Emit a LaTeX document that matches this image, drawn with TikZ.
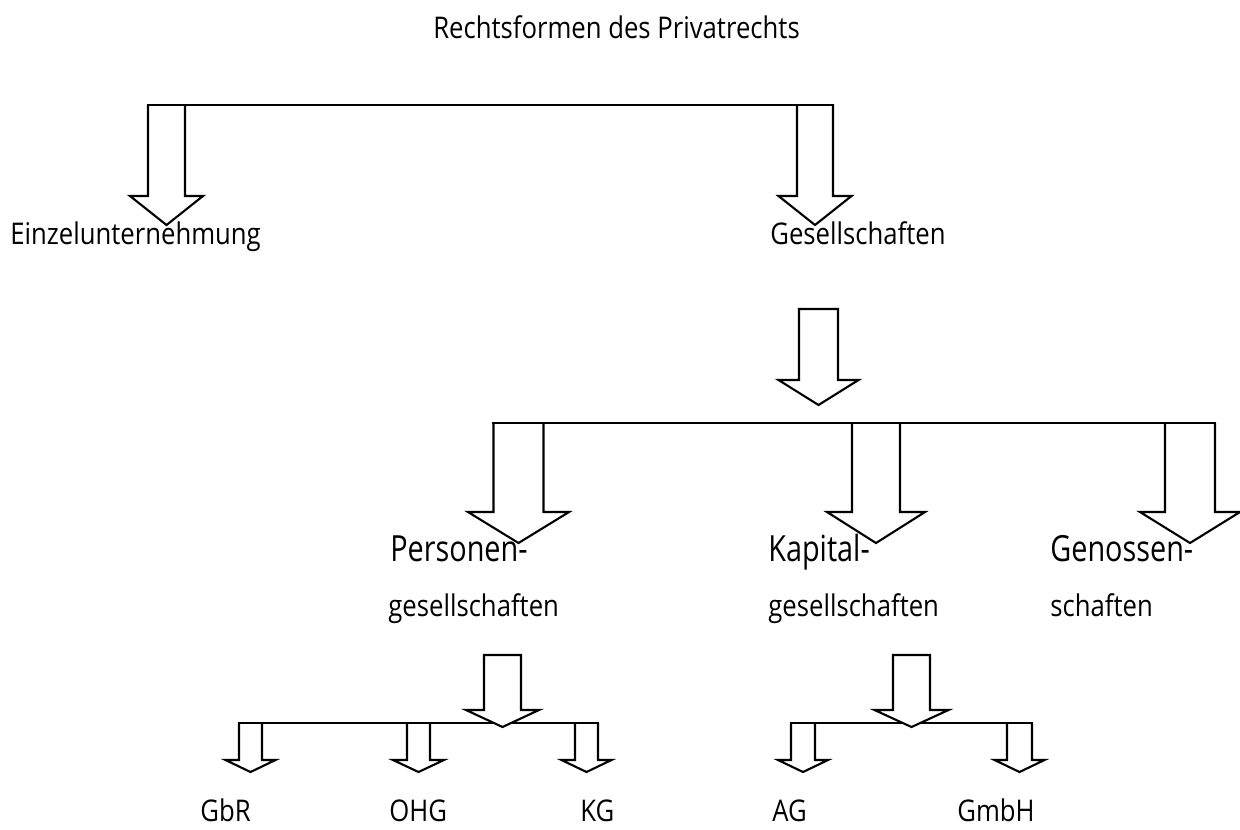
\documentclass[tikz,border=0pt]{standalone}
\usepackage{fontspec}
\setmainfont{Open Sans}[FakeStretch=0.86]
\newfontfamily\bigfont{Open Sans}[FakeStretch=0.8]

% block arrow hanging from a bar: centre, half shaft, half head, top, base, tip
\newcommand{\hangarr}[6]{%
  \draw[outline] (#1-#2,#4) -- (#1-#2,#5) -- (#1-#3,#5) -- (#1,#6)
    -- (#1+#3,#5) -- (#1+#2,#5) -- (#1+#2,#4);}
% free standing block arrow, same arguments
\newcommand{\soloarr}[6]{%
  \draw[outline,fill=white] (#1-#2,#4) -- (#1-#2,#5) -- (#1-#3,#5) -- (#1,#6)
    -- (#1+#3,#5) -- (#1+#2,#5) -- (#1+#2,#4) -- cycle;}

\tikzset{
  outline/.style={line width=1.2pt, line join=miter},
  bar/.style={line width=1.2pt, line cap=rect},
  lbl/.style={anchor=base west, inner sep=0pt, font=\fontsize{17}{20}\selectfont},
  biglbl/.style={anchor=base west, inner sep=0pt, font=\bigfont\fontsize{20.5}{24}\selectfont},
}

\begin{document}
\begin{tikzpicture}[x=0.02cm, y=-0.02cm]
  \useasboundingbox (0,0) rectangle (1240,829);

  \node [lbl, anchor=base] (title) at (616.5,38) {Rechtsformen des Privatrechts};

  % first level
  \hangarr{166.5}{18.5}{36.5}{104.7}{196}{225}
  \hangarr{815}{18}{36.5}{104.7}{196}{225}
  \draw [bar] (148,104.7) -- (833,104.7);

  \node [lbl] (einzel) at (10,244) {Einzelunternehmung};
  \node [lbl] (gesell) at (770,244) {Gesellschaften};

  % second level
  \soloarr{818.5}{19.5}{40}{309}{380}{405}
  \hangarr{518.5}{25}{50.5}{423}{512}{543}
  \hangarr{876}{24}{49}{423}{512}{543}
  \hangarr{1190}{25}{50}{423}{512}{543}
  \draw [bar] (493.5,423) -- (1215,423);

  \node [biglbl] (persA) at (390,561.7) {Personen-};
  \node [lbl] (persB) at (388,616.7) {gesellschaften};
  \node [biglbl] (kapA) at (768,561.7) {Kapital-};
  \node [lbl] (kapB) at (768,616.7) {gesellschaften};
  \node [biglbl] (genA) at (1050,561.7) {Genossen-};
  \node [lbl] (genB) at (1050,616.7) {schaften};

  % third level
  \hangarr{250.5}{11.5}{25}{723}{760}{772}
  \hangarr{418.5}{11.5}{25.5}{723}{760}{772}
  \hangarr{586.5}{11.5}{25}{723}{760}{772}
  \draw [bar] (239,723) -- (598,723);
  \soloarr{502.5}{18.5}{36.5}{655}{710}{727}

  \hangarr{803}{12}{25}{723}{760}{772}
  \hangarr{1019.5}{12.5}{25}{723}{760}{772}
  \draw [bar] (791,723) -- (1032,723);
  \soloarr{911.5}{18.5}{37}{655}{710}{727}

  \node [lbl] (gbr) at (200,821) {GbR};
  \node [lbl] (ohg) at (389,821) {OHG};
  \node [lbl] (kg) at (580,821) {KG};
  \node [lbl] (ag) at (772,821) {AG};
  \node [lbl] (gmbh) at (957,821) {GmbH};
\end{tikzpicture}
\end{document}
